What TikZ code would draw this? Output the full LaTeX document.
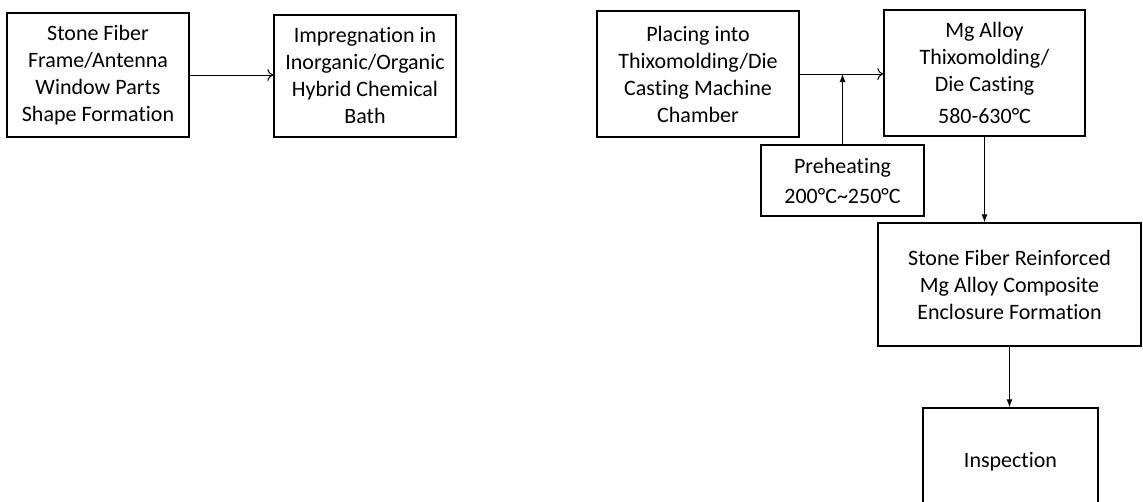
\documentclass[tikz,border=0pt]{standalone}
\usepackage{fontspec}
\setmainfont{Carlito}[Ligatures=NoCommon]
\usetikzlibrary{arrows.meta}

\begin{document}
\begin{tikzpicture}[x=1pt, y=-1pt, line width=1pt,
                    main node/.style={rectangle, draw, line width=1.4pt, align=center, inner sep=0pt,
                                      font=\fontsize{22}{27}\selectfont},
                    open tip/.style={-{To[length=6pt,width=12pt]}},
                    fill tip/.style={-{Latex[length=8pt,width=6pt]}}]
  \useasboundingbox (0,0) rectangle (1143,501);

  \node[main node, minimum width=182, minimum height=124] (frame) at (98,75)
    {Stone Fiber\\Frame/Antenna\\Window Parts\\Shape Formation};
  \node[main node, minimum width=182, minimum height=122] (bath) at (365,76)
    {Impregnation in\\Inorganic/Organic\\Hybrid Chemical\\Bath};
  \node[main node, minimum width=202, minimum height=126] (chamber) at (698,74)
    {Placing into\\Thixomolding/Die\\Casting Machine\\Chamber};
  \node[main node, minimum width=201, minimum height=126] (casting) at (984.5,73)
    {Mg Alloy\\Thixomolding/\\Die Casting\\[5pt]580-630°C};
  \node[main node, minimum width=163, minimum height=71] (preheat) at (842.5,180.5)
    {Preheating\\[3pt]200°C\textasciitilde 250°C};
  \node[main node, minimum width=263, minimum height=123] (enclosure) at (1009.5,284.5)
    {Stone Fiber Reinforced\\Mg Alloy Composite\\Enclosure Formation};
  \node[main node, minimum width=175, minimum height=108] (inspect) at (1010.5,462)
    {Inspection};

  \path
    (frame.east) edge[open tip] (frame.east -| bath.west)
    (chamber.east) edge[open tip] (chamber.east -| casting.west)
    (preheat.north) edge[fill tip] (preheat.north |- chamber.east)
    (casting.south) edge[fill tip] (casting.south |- enclosure.north)
    (enclosure.south) edge[fill tip] (enclosure.south |- inspect.north);
\end{tikzpicture}
\end{document}
